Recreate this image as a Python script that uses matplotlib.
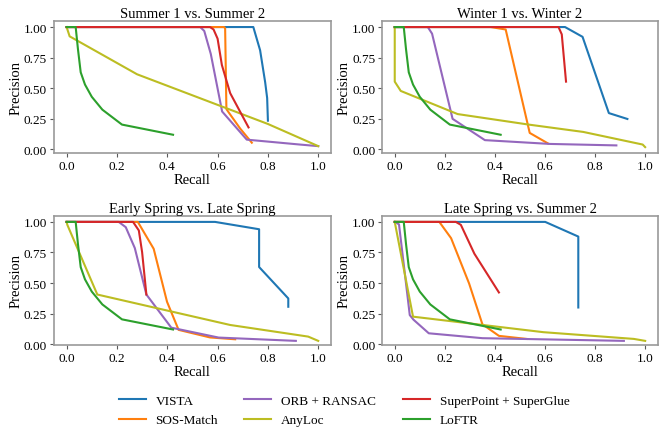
import matplotlib

matplotlib.use("Agg")
import matplotlib.pyplot as plt
import numpy as np

# (recall, precision) points, one list per curve
methods = ["VISTA", "SOS-Match", "ORB + RANSAC", "AnyLoc", "SuperPoint + SuperGlue", "LoFTR"]
colors = ["#1f77b4", "#ff7f0e", "#9467bd", "#bcbd22", "#d62728", "#2ca02c"]
titles = ["Summer 1 vs. Summer 2", "Winter 1 vs. Winter 2",
          "Early Spring vs. Late Spring", "Late Spring vs. Summer 2"]

# LoFTR curve is the same in every panel
loftr = [(0.0, 1.0), (0.036, 1.0), (0.045, 0.82), (0.056, 0.63), (0.073, 0.53),
         (0.10, 0.43), (0.142, 0.325), (0.22, 0.203), (0.423, 0.12)]

s1s2_vista = [(0.0, 1.0), (0.742, 1.0), (0.769, 0.81), (0.789, 0.55), (0.797, 0.42), (0.80, 0.235)]
s1s2_sos = [(0.0, 1.0), (0.626, 1.0), (0.63, 0.99), (0.635, 0.33), (0.645, 0.30), (0.69, 0.17),
            (0.736, 0.055)]
s1s2_orb = [(0.0, 1.0), (0.531, 1.0), (0.547, 0.968), (0.573, 0.78), (0.618, 0.31), (0.716, 0.08),
            (0.927, 0.04), (1.0, 0.027)]
s1s2_anyloc = [(0.0, 1.0), (0.012, 0.924), (0.28, 0.614), (0.80, 0.208), (1.0, 0.027)]
s1s2_spsg = [(0.0, 1.0), (0.57, 1.0), (0.584, 0.98), (0.60, 0.905), (0.617, 0.69), (0.65, 0.46),
             (0.723, 0.18)]

w1w2_vista = [(0.0, 1.0), (0.68, 1.0), (0.75, 0.92), (0.855, 0.297), (0.929, 0.249)]
w1w2_sos = [(0.0, 1.0), (0.383, 1.0), (0.443, 0.98), (0.539, 0.135), (0.612, 0.049)]
w1w2_orb = [(0.0, 1.0), (0.132, 1.0), (0.149, 0.946), (0.231, 0.25), (0.36, 0.076), (0.62, 0.045),
            (0.885, 0.033)]
w1w2_anyloc = [(0.0, 1.0), (0.0, 0.554), (0.024, 0.478), (0.251, 0.289), (0.535, 0.203),
               (0.753, 0.143), (0.99, 0.04), (1.0, 0.019)]
w1w2_spsg = [(0.0, 1.0), (0.654, 1.0), (0.667, 0.94), (0.684, 0.554)]

es_ls_vista = [(0.0, 1.0), (0.59, 1.0), (0.765, 0.94), (0.765, 0.631), (0.881, 0.374), (0.881, 0.306)]
es_ls_sos = [(0.0, 1.0), (0.283, 1.0), (0.346, 0.78), (0.399, 0.347), (0.445, 0.117), (0.57, 0.055),
             (0.67, 0.04)]
es_ls_orb = [(0.0, 1.0), (0.207, 1.0), (0.235, 0.957), (0.271, 0.786), (0.317, 0.406), (0.416, 0.135),
             (0.604, 0.054), (0.911, 0.027)]
es_ls_anyloc = [(0.0, 1.0), (0.003, 0.975), (0.122, 0.406), (0.65, 0.157), (0.96, 0.062), (1.0, 0.027)]
es_ls_spsg = [(0.0, 1.0), (0.264, 1.0), (0.287, 0.93), (0.30, 0.753), (0.317, 0.406)]

ls_s2_vista = [(0.0, 1.0), (0.601, 1.0), (0.733, 0.88), (0.733, 0.30)]
ls_s2_sos = [(0.0, 1.0), (0.178, 1.0), (0.225, 0.867), (0.297, 0.496), (0.35, 0.163), (0.416, 0.068),
             (0.526, 0.043)]
ls_s2_orb = [(0.0, 1.0), (0.017, 0.98), (0.06, 0.238), (0.075, 0.20), (0.136, 0.089), (0.35, 0.049),
             (0.915, 0.027)]
ls_s2_anyloc = [(0.0, 1.0), (0.073, 0.225), (0.594, 0.098), (0.955, 0.043), (1.0, 0.027)]
ls_s2_spsg = [(0.0, 1.0), (0.244, 1.0), (0.264, 0.976), (0.318, 0.74), (0.416, 0.423)]

panels = [
    [s1s2_vista, s1s2_sos, s1s2_orb, s1s2_anyloc, s1s2_spsg, loftr],
    [w1w2_vista, w1w2_sos, w1w2_orb, w1w2_anyloc, w1w2_spsg, loftr],
    [es_ls_vista, es_ls_sos, es_ls_orb, es_ls_anyloc, es_ls_spsg, loftr],
    [ls_s2_vista, ls_s2_sos, ls_s2_orb, ls_s2_anyloc, ls_s2_spsg, loftr],
]

plt.rcParams["font.family"] = ["Liberation Serif", "DejaVu Serif"]

fig = plt.figure(figsize=(6.59, 4.31), dpi=100)
boxes = [
    (0.082, 0.643, 0.420, 0.305),
    (0.580, 0.643, 0.418, 0.305),
    (0.082, 0.198, 0.420, 0.299),
    (0.580, 0.198, 0.418, 0.299),
]

handles = []
for i, (box, curves) in enumerate(zip(boxes, panels)):
    ax = fig.add_axes(box)
    for name, color, pts in zip(methods, colors, curves):
        arr = np.array(pts)
        (ln,) = ax.plot(arr[:, 0], arr[:, 1], color=color, linewidth=1.5, label=name)
        if i == 0:
            handles.append(ln)
    ax.set_xlim(-0.05, 1.05)
    if i < 2:
        ax.set_ylim(-0.028, 1.046)
    else:
        ax.set_ylim(-0.004, 1.05)
    ax.set_xticks([0.0, 0.2, 0.4, 0.6, 0.8, 1.0])
    ax.set_yticks([0.0, 0.25, 0.5, 0.75, 1.0])
    ax.set_xticklabels(["0.0", "0.2", "0.4", "0.6", "0.8", "1.0"])
    ax.set_yticklabels(["0.00", "0.25", "0.50", "0.75", "1.00"])
    ax.set_title(titles[i], fontsize=10.5, pad=3)
    ax.set_xlabel("Recall", fontsize=10.5, labelpad=1)
    ax.set_ylabel("Precision", fontsize=10.5, labelpad=1)
    ax.tick_params(labelsize=9.5, length=3, width=0.8, color="0.35", pad=2)
    for sp in ax.spines.values():
        sp.set_color("0.6")
        sp.set_linewidth(1.2)

# column-major fill gives VISTA/SOS-Match, ORB/AnyLoc, SP+SG/LoFTR columns
fig.legend(
    handles=handles,
    labels=methods,
    loc="center",
    bbox_to_anchor=(0.522, 0.045),
    ncol=3,
    frameon=False,
    fontsize=9.5,
    handlelength=2.05,
    handletextpad=0.75,
    columnspacing=2.0,
    labelspacing=0.55,
)

fig.savefig("out.png", dpi=100)
